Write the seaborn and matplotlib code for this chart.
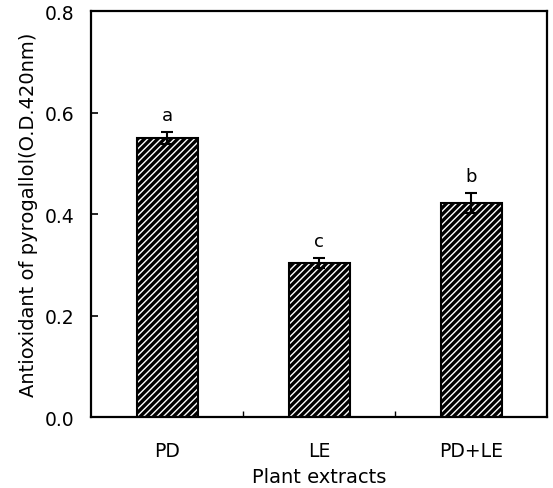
import matplotlib
matplotlib.use("Agg")
import matplotlib.pyplot as plt
import matplotlib.ticker as mticker
import pandas as pd
import seaborn as sns

# ── Data ──────────────────────────────────────────────────────────────────────
extracts = ["PD", "LE", "PD+LE"]
antioxidant = [0.550, 0.304, 0.422]
sem = [0.012, 0.010, 0.020]
letters = ["a", "c", "b"]

df = pd.DataFrame({"extract": extracts, "value": antioxidant})

# ── Style ─────────────────────────────────────────────────────────────────────
sns.set_theme(style="ticks")
plt.rcParams["font.family"] = ["DejaVu Sans"]
plt.rcParams["text.color"] = "black"
plt.rcParams["axes.labelcolor"] = "black"
plt.rcParams["xtick.color"] = "black"
plt.rcParams["ytick.color"] = "black"
plt.rcParams["hatch.linewidth"] = 1.0

fig, ax = plt.subplots(figsize=(5.53, 4.89), dpi=100)
fig.subplots_adjust(left=0.165, right=0.99, top=0.975, bottom=0.145)

# black bars with white diagonal hatching
sns.barplot(data=df, x="extract", y="value", order=extracts, width=0.4,
            color="black", saturation=1, errorbar=None, ax=ax)
for bar in ax.patches:
    bar.set_facecolor("black")
    bar.set_edgecolor("white")
    bar.set_hatch("/////")
    bar.set_linewidth(0)

# black outline on top
sns.barplot(data=df, x="extract", y="value", order=extracts, width=0.4,
            fill=False, edgecolor="black", linewidth=1.5, errorbar=None, ax=ax)

# error bars
ax.errorbar(range(len(extracts)), antioxidant, yerr=sem, fmt="none",
            ecolor="black", elinewidth=1.5, capsize=4, capthick=1.5, zorder=5)

# significance letters
for i, (v, e, t) in enumerate(zip(antioxidant, sem, letters)):
    ax.text(i, v + e + 0.016, t, ha="center", va="bottom", fontsize=13)

ax.set_xlim(-0.5, 2.5)
ax.set_ylim(0, 0.8)
ax.yaxis.set_major_locator(mticker.MultipleLocator(0.2))
ax.yaxis.set_major_formatter(mticker.FormatStrFormatter("%.1f"))
ax.xaxis.set_minor_locator(mticker.FixedLocator([0.5, 1.5]))

ax.tick_params(axis="y", direction="in", length=5, width=1.2, labelsize=13.5, pad=12)
ax.tick_params(axis="x", which="major", length=0, labelsize=13.5, pad=17)
ax.tick_params(axis="x", which="minor", direction="in", length=4, width=1)

for s in ax.spines.values():
    s.set_linewidth(1.6)
    s.set_color("black")

ax.set_xlabel("Plant extracts", fontsize=14, labelpad=5)
ax.set_ylabel("Antioxidant of pyrogallol(O.D.420nm)", fontsize=14, labelpad=5)

fig.savefig("out.png", dpi=100)
